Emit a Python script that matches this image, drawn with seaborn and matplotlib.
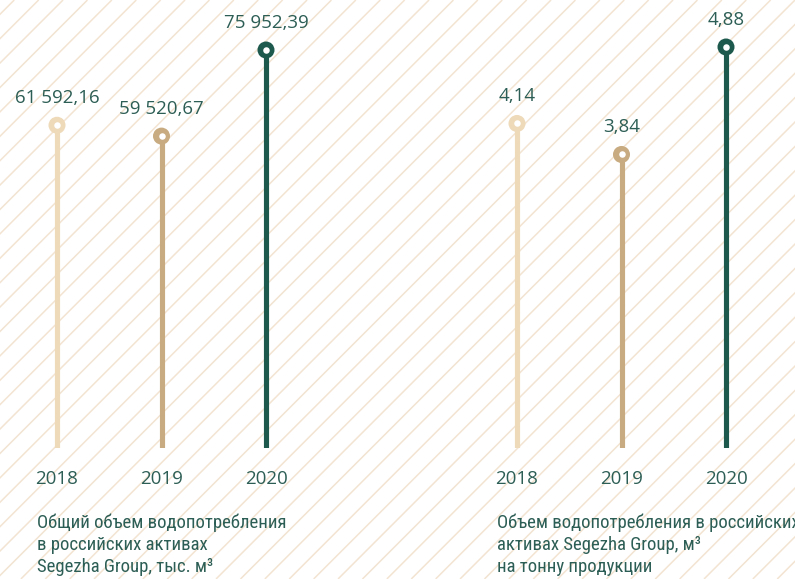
import numpy as np
import pandas as pd
import matplotlib
matplotlib.use("Agg")
import matplotlib.pyplot as plt
from matplotlib import font_manager as fm
import seaborn as sns

# --- data -------------------------------------------------------------
years = ["2018", "2019", "2020"]
total_volume = [61592.16, 59520.67, 75952.39]      # тыс. м³
volume_per_ton = [4.14, 3.84, 4.88]                  # м³ на тонну
total_labels = ["61 592,16", "59 520,67", "75 952,39"]
per_ton_labels = ["4,14", "3,84", "4,88"]
left_title = "Общий объем водопотребления\nв российских активах\nSegezha Group, тыс. м³"
right_title = "Объем водопотребления в российских\nактивах Segezha Group, м³\nна тонну продукции"

# --- style ------------------------------------------------------------
palette = ["#EED9B8", "#C8AB80", "#1D5A4D"]
text_color = "#2D5E55"
stripe_color = "#F3E4D2"

sns.set_theme(style="white")
plt.rcParams["font.family"] = ["Open Sans", "DejaVu Sans"]


def narrow_font():
    """Pick a condensed sans face for the captions, if one is installed."""
    wanted = [("Noto Sans", "condensed"), ("Noto Sans", "semi-condensed"),
              ("Roboto Condensed", None), ("Liberation Sans Narrow", None),
              ("DejaVu Sans", "condensed"), ("Open Sans", "condensed")]
    fonts = fm.fontManager.ttflist
    for fam, stretch in wanted:
        for f in fonts:
            if f.name != fam or f.style != "normal":
                continue
            if f.weight not in (400, "normal", "regular"):
                continue
            if stretch is None or f.stretch == stretch:
                return fm.FontProperties(fname=f.fname)
    return fm.FontProperties(family="Roboto")


cap_font = narrow_font()

W, H = 795, 579
fig = plt.figure(figsize=(W / 100, H / 100), dpi=100)
fig.patch.set_facecolor("white")

# diagonal hatching behind everything
bg = fig.add_axes([0, 0, 1, 1], zorder=0)
bg.set_xlim(0, W)
bg.set_ylim(H, 0)
bg.axis("off")
step = 24.4
for c in np.arange(14.25 - step * 2, W + H + step, step):
    bg.plot([c, c - H], [0, H], color=stripe_color, lw=1.1, solid_capstyle="butt")


def px_axes(left_px, right_px, top_px, bottom_px):
    return fig.add_axes([left_px / W, 1 - bottom_px / H,
                         (right_px - left_px) / W, (bottom_px - top_px) / H], zorder=2)


def lollipop(ax, values, labels, base, top_val, top_px, bottom_px):
    df = pd.DataFrame({"x": np.arange(len(years)), "v": values, "year": years})
    # scale: base at bottom_px, top_val at top_px, axes spanning to figure top
    span = (top_val - base) * bottom_px / (bottom_px - top_px)
    ax.set_ylim(base, base + span)
    ax.set_xlim(-0.5, len(years) - 0.5)
    ax.patch.set_alpha(0)
    ax.vlines(df["x"], base, df["v"], colors=palette, lw=3.7,
              capstyle="round", zorder=2)
    sns.scatterplot(data=df, x="x", y="v", hue="year", palette=palette,
                    s=150, linewidth=0, legend=False, ax=ax, zorder=3, clip_on=False)
    ax.scatter(df["x"], df["v"], s=22, color="white", linewidth=0, zorder=4, clip_on=False)
    for xi, v, lab in zip(df["x"], df["v"], labels):
        ax.annotate(lab, (xi, v), xytext=(0, 16), textcoords="offset points",
                    ha="center", va="baseline", fontsize=13.5, color=text_color,
                    annotation_clip=False)
    ax.set_xticks(df["x"])
    ax.set_xticklabels(years)
    ax.tick_params(axis="x", length=0, pad=16, labelsize=13.5, labelcolor=text_color)
    ax.set_yticks([])
    ax.set_xlabel("")
    ax.set_ylabel("")
    sns.despine(ax=ax, left=True, bottom=True)


ax1 = px_axes(4.75, 318.25, 0, 448)
lollipop(ax1, total_volume, total_labels, 0.0, max(total_volume), 50, 448)

ax2 = px_axes(464.75, 778.25, 0, 448)
lollipop(ax2, volume_per_ton, per_ton_labels, 1.0, max(volume_per_ton), 47, 448)

cap_font.set_size(13.5)
for x0, txt in ((37, left_title), (497, right_title)):
    fig.text(x0 / W, 1 - 514 / H, txt, ha="left", va="top",
             fontproperties=cap_font, color=text_color, linespacing=1.26,
             multialignment="left")

fig.savefig("out.png", dpi=100, facecolor="white")
